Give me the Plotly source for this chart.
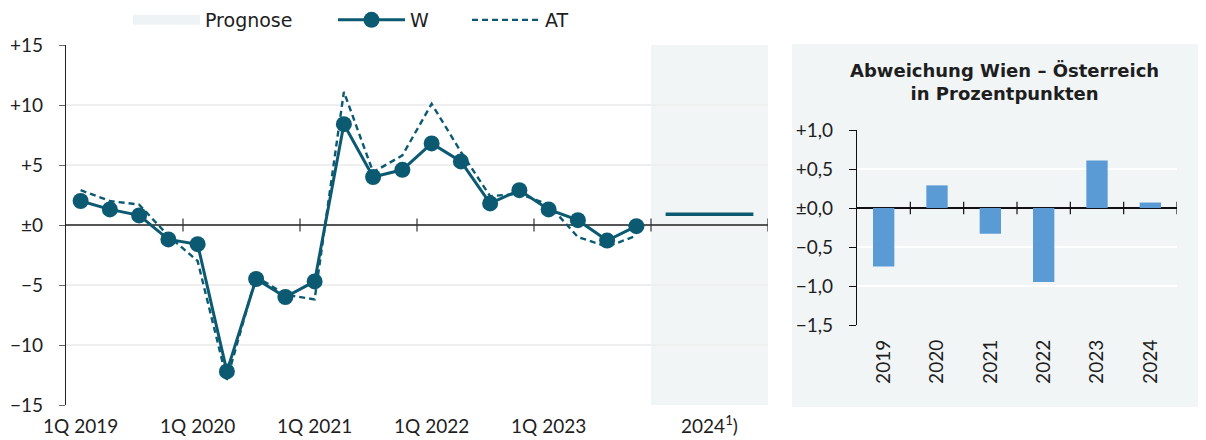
import plotly.graph_objects as go

# ---------------- data ----------------
years = ["2019", "2020", "2021", "2022", "2023"]
quarters = [f"{q}Q {y}" for y in years for q in (1, 2, 3, 4)]
w_values = [2.0, 1.3, 0.8, -1.2,
            -1.6, -12.2, -4.5, -6.0,
            -4.7, 8.4, 4.0, 4.6,
            6.8, 5.3, 1.8, 2.9,
            1.3, 0.4, -1.3, -0.1]
at_values = [2.9, 2.0, 1.7, -0.9,
             -3.0, -12.9, -4.3, -5.8,
             -6.2, 11.1, 4.4, 5.8,
             10.1, 6.1, 2.4, 2.6,
             1.7, -1.0, -1.8, -0.9]
forecast_label = "2024<sup>1</sup>)"
w_forecast = 0.9

dev_years = ["2019", "2020", "2021", "2022", "2023", "2024"]
dev_values = [-0.75, 0.29, -0.33, -0.95, 0.61, 0.07]

left_yticks = [15, 10, 5, 0, -5, -10, -15]
left_yticktext = ["+15", "+10", "+5", "±0", "−5", "−10", "−15"]
right_yticks = [1.0, 0.5, 0.0, -0.5, -1.0, -1.5]
right_yticktext = ["+1,0", "+0,5", "±0,0", "−0,5", "−1,0", "−1,5"]

# ---------------- style ----------------
W_COL = "#0c5a72"
BAR_COL = "#5a9bd5"
SHADE = "#f1f5f6"
GRID = "#efefef"
TXT = "#1e1e1e"
NUM_FONT = "Lato"
WORD_FONT = "DejaVu Sans"

W, H = 1206, 440
OFF = 8  # page body margin
def px_x(p):
    return (p - OFF) / W
def px_y(p):
    return 1 - (p - OFF) / H

n_q = len(quarters)
qx = [i + 0.5 for i in range(n_q)]
n_years_total = len(years) + 1
x_max = 4 * n_years_total

fig = go.Figure()

fig.add_trace(go.Scatter(x=[None], y=[None], mode="lines", name="Prognose",
                         line=dict(color="#eef3f5", width=12), legend="legend",
                         xaxis="x", yaxis="y"))
fig.add_trace(go.Scatter(x=qx, y=at_values, mode="lines", name="AT",
                         line=dict(color=W_COL, width=2.4, dash="6px,4px"),
                         legend="legend3", xaxis="x", yaxis="y"))
fig.add_trace(go.Scatter(x=qx, y=w_values, mode="lines+markers", name="W",
                         line=dict(color=W_COL, width=3),
                         marker=dict(color=W_COL, size=16),
                         legend="legend2", xaxis="x", yaxis="y"))
fc_start = 4 * len(years)
fig.add_trace(go.Scatter(x=[fc_start + 0.5, x_max - 0.5], y=[w_forecast, w_forecast],
                         mode="lines", showlegend=False,
                         line=dict(color=W_COL, width=3.5), xaxis="x", yaxis="y"))

fig.add_trace(go.Bar(x=list(range(len(dev_years))), y=dev_values, width=0.4,
                     marker=dict(color=BAR_COL, line=dict(width=0)),
                     showlegend=False, xaxis="x2", yaxis="y2"))

shapes = []
shapes.append(dict(type="rect", xref="x", yref="y", x0=fc_start, x1=x_max,
                   y0=-15, y1=15, fillcolor=SHADE, line=dict(width=0), layer="below"))
shapes.append(dict(type="rect", xref="paper", yref="paper", x0=px_x(792), x1=1.0,
                   y0=px_y(407), y1=px_y(44), fillcolor=SHADE, line=dict(width=0),
                   layer="below"))
for b in range(4, x_max + 1, 4):
    shapes.append(dict(type="line", xref="x", yref="y", x0=b, x1=b, y0=-0.55, y1=0.55,
                       line=dict(color="#333", width=1.2)))
for b in range(1, len(dev_years) + 1):
    shapes.append(dict(type="line", xref="x2", yref="y2", x0=b - 0.5, x1=b - 0.5,
                       y0=-0.08, y1=0.08, line=dict(color="#111", width=1.2)))

annotations = [dict(text="<b>Abweichung Wien – Österreich<br>in Prozentpunkten</b>",
                    xref="paper", yref="paper", x=px_x(1004), y=px_y(82),
                    xanchor="center", yanchor="middle", showarrow=False,
                    font=dict(size=18, color=TXT, family=WORD_FONT))]

def legend_at(xpx, width):
    return dict(orientation="h", x=px_x(xpx), y=px_y(20), xanchor="left", yanchor="middle",
                font=dict(size=19, color=TXT, family=WORD_FONT), bgcolor="rgba(0,0,0,0)",
                itemwidth=width, borderwidth=0)

fig.update_layout(
    width=W, height=H,
    margin=dict(l=0, r=0, t=0, b=0, autoexpand=False),
    paper_bgcolor="white", plot_bgcolor="rgba(0,0,0,0)",
    font=dict(family=NUM_FONT, size=19, color=TXT),
    showlegend=True,
    legend=legend_at(128, 67),
    legend2=legend_at(333, 67),
    legend3=legend_at(467, 68),
    shapes=shapes, annotations=annotations,
    xaxis=dict(domain=[px_x(66), px_x(768)], range=[0, x_max], automargin=False,
               tickmode="array",
               tickvals=[qx[i] for i in range(0, n_q, 4)] + [fc_start + 2],
               ticktext=[quarters[i] for i in range(0, n_q, 4)] + [forecast_label],
               ticks="", showgrid=False, zeroline=False, showline=False,
               anchor="y", tickfont=dict(size=19), ticklabelstandoff=8),
    yaxis=dict(domain=[px_y(405), px_y(45)], range=[-15, 15], automargin=False,
               tickmode="array", tickvals=left_yticks, ticktext=left_yticktext,
               ticks="outside", ticklen=6, tickcolor="#666", tickwidth=1,
               showline=True, linecolor="#222", linewidth=1.2,
               showgrid=True, gridcolor=GRID, gridwidth=2,
               zeroline=True, zerolinecolor="#555", zerolinewidth=1.5,
               anchor="x", tickfont=dict(size=19), ticklabelstandoff=12),
    xaxis2=dict(domain=[px_x(857), px_x(1177)], range=[-0.5, len(dev_years) - 0.5],
                automargin=False,
                tickmode="array", tickvals=list(range(len(dev_years))), ticktext=dev_years,
                tickangle=-90, ticks="", showgrid=False, zeroline=False, showline=False,
                anchor="y2", tickfont=dict(size=19), ticklabelstandoff=10),
    yaxis2=dict(domain=[px_y(325), px_y(130)], range=[-1.5, 1.0], automargin=False,
                tickmode="array", tickvals=right_yticks, ticktext=right_yticktext,
                ticks="outside", ticklen=7, tickcolor="#111", tickwidth=1,
                showline=True, linecolor="#111", linewidth=1.2,
                showgrid=True, gridcolor="white", gridwidth=2,
                zeroline=True, zerolinecolor="#111", zerolinewidth=1.5,
                anchor="x2", tickfont=dict(size=19), ticklabelstandoff=12),
)

fig.write_html("out.html")
